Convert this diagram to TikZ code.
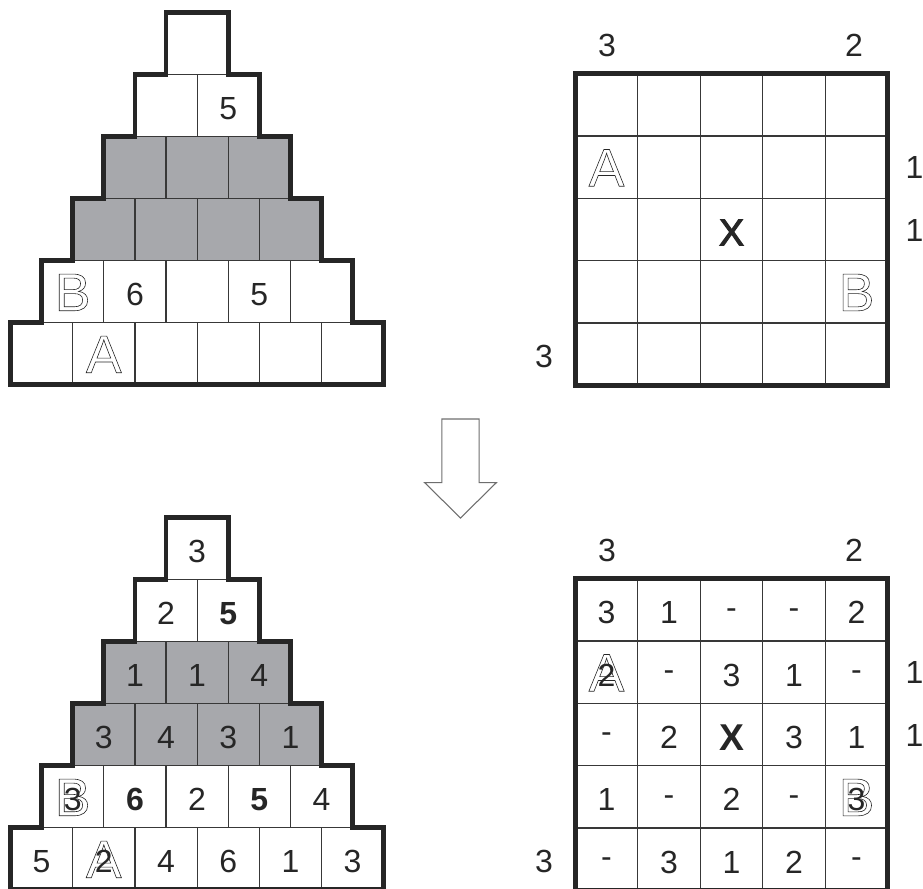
\documentclass[tikz,border=0pt]{standalone}
\usepackage{fontspec}
\setmainfont{Liberation Sans}
\newcommand\outl[1]{\special{pdf:literal direct 1 Tr 0.45 w}#1\special{pdf:literal direct 0 Tr}}
\newcommand\semib[1]{\special{pdf:literal direct 2 Tr 0.8 w}#1\special{pdf:literal direct 0 Tr}}
\definecolor{pgray}{RGB}{167,168,172}
\definecolor{ink}{RGB}{38,38,38}
\definecolor{arrowgray}{RGB}{110,110,110}
\tikzset{
  cellline/.style={line width=0.9pt, draw=black!78},
  outline/.style={line width=3.5pt, draw=black!85},
  txt/.style={inner sep=0pt, font=\fontsize{24}{28}\selectfont, text height=17.2pt, text depth=0pt, text=ink},
  num/.style={txt, yshift=-1.9pt},
  bnum/.style={num, font=\fontsize{24}{28}\selectfont\bfseries},
  hy/.style={txt, yshift=2.3pt},
  xnum/.style={num, font=\fontsize{28}{32}\selectfont, text height=20pt},
  bxnum/.style={xnum, font=\fontsize{28}{32}\selectfont\bfseries},
  letter/.style={inner sep=0pt, font=\fontsize{40}{44}\selectfont, text height=28.6pt, text depth=0pt, text=ink},
  arrowshape/.style={line width=0.8pt, draw=arrowgray, fill=white}
}
\newcommand\pyramid[2]{%
\begin{scope}[shift={(0,#2)}]
  \fill[pgray] (72.7,198.7) rectangle (321.5,260.7);
  \fill[pgray] (103.8,136.7) rectangle (290.4,198.7);
  \foreach \k in {0,...,5}{
    \pgfmathtruncatemacro\nc{5-\k}
    \foreach \j in {0,...,\nc}{
      \draw[cellline] ({10.5+\k*31.1+\j*62.2},{384.7-\k*62}) rectangle ++(62.2,-62);
      \coordinate (#1\k-\j) at ({10.5+\k*31.1+\j*62.2+31.1},{384.7-\k*62-31});
    }
  }
  \draw[outline] (10.5,384.7) -- (10.5,322.7) -- (41.6,322.7) -- (41.6,260.7) -- (72.7,260.7) -- (72.7,198.7) -- (103.8,198.7) -- (103.8,136.7) -- (134.9,136.7) -- (134.9,74.7) -- (166.0,74.7) -- (166.0,12.7) -- (228.2,12.7) -- (228.2,74.7) -- (259.3,74.7) -- (259.3,136.7) -- (290.4,136.7) -- (290.4,198.7) -- (321.5,198.7) -- (321.5,260.7) -- (352.6,260.7) -- (352.6,322.7) -- (383.7,322.7) -- (383.7,384.7) -- cycle;
\end{scope}}
\newcommand\sgrid[2]{%
\begin{scope}[shift={(0,#2)}]
  \foreach \c in {0,...,4}{
    \foreach \r in {0,...,4}{
      \draw[cellline] ({575.3+\c*62.5},{73.7+\r*62.3}) rectangle ++(62.5,62.3);
      \coordinate (#1\r-\c) at ({606.55+\c*62.5},{104.85+\r*62.3});
    }
  }
  \draw[outline] (575.3,73.7) rectangle (887.8,385.2);
\end{scope}}
\begin{document}
\begin{tikzpicture}[x=0.75pt,y=-0.75pt]
\useasboundingbox (0,0) rectangle (923,888);
% ---------- top pyramid ----------
\pyramid{T}{0}
\node[letter] (tB) at (T1-0) {\outl{B}};
\node[num] (t16) at (T1-1) {6};
\node[num] (t15) at (T1-3) {5};
\node[num] (t45) at (T4-1) {5};
\node[letter] (tA) at (T0-1) {\outl{A}};
% ---------- top grid ----------
\sgrid{G}{0}
\node[letter] (gA) at (G1-0) {\outl{A}};
\node[xnum] (gX) at (G2-2) {\semib{X}};
\node[letter] (gB) at (G3-4) {\outl{B}};
\node[txt] (gl1) at (607,45) {3};
\node[txt] (gl2) at (854,45) {2};
\node[txt] (gl3) at (914.5,167.5) {1};
\node[txt] (gl4) at (914.5,230) {1};
\node[txt] (gl5) at (544,356) {3};
% ---------- arrow ----------
\draw[arrowshape] (441.8,419) -- (479.2,419) -- (479.2,482.7) -- (496.3,482.7) -- (460.5,518) -- (424.7,482.7) -- (441.8,482.7) -- cycle;
% ---------- bottom pyramid ----------
\pyramid{U}{505}
\node[letter] (uB) at (U1-0) {\outl{B}};
\node[letter] (uA) at (U0-1) {\outl{A}};
\foreach \k/\j/\t in {5/0/3, 4/0/2, 3/0/1, 3/1/1, 3/2/4, 2/0/3, 2/1/4, 2/2/3, 2/3/1, 1/0/3, 1/2/2, 1/4/4, 0/0/5, 0/1/2, 0/2/4, 0/3/6, 0/4/1, 0/5/3}
  \node[num] (u\k\j) at (U\k-\j) {\t};
\node[bnum] (u41) at (U4-1) {5};
\node[bnum] (u11) at (U1-1) {6};
\node[bnum] (u13) at (U1-3) {5};
% ---------- bottom grid ----------
\sgrid{H}{505}
\node[letter] (hA) at (H1-0) {\outl{A}};
\node[letter] (hB) at (H3-4) {\outl{B}};
\foreach \r/\c/\t in {0/0/3, 0/1/1, 0/4/2, 1/0/2, 1/2/3, 1/3/1, 2/1/2, 2/3/3, 2/4/1, 3/0/1, 3/2/2, 3/4/3, 4/1/3, 4/2/1, 4/3/2}
  \node[num] (h\r\c) at (H\r-\c) {\t};
\foreach \r/\c in {0/2, 0/3, 1/1, 1/4, 2/0, 3/1, 3/3, 4/0, 4/4}
  \node[hy] (hh\r\c) at (H\r-\c) {-};
\node[bxnum] (hX) at (H2-2) {X};
\node[txt] (hl1) at (607,550) {3};
\node[txt] (hl2) at (854,550) {2};
\node[txt] (hl3) at (914.5,672.5) {1};
\node[txt] (hl4) at (914.5,735) {1};
\node[txt] (hl5) at (544,861) {3};
\end{tikzpicture}
\end{document}
